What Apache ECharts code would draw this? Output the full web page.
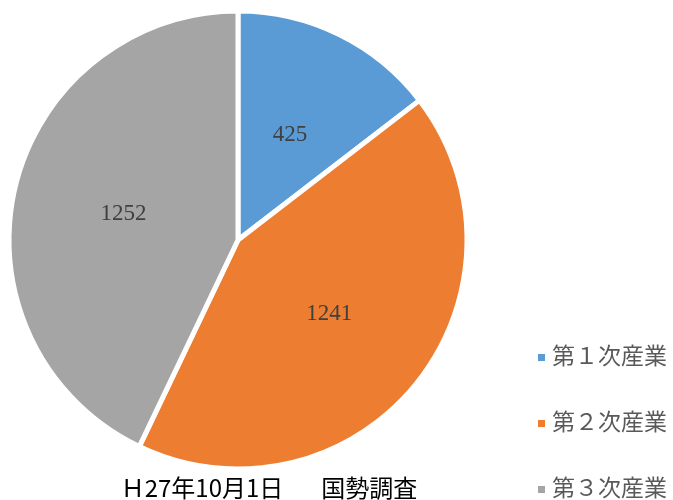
<!DOCTYPE html>
<html><head><meta charset="utf-8">
<script src="https://cdn.jsdelivr.net/npm/echarts@6/dist/echarts.min.js"></script>
<style>html,body{margin:0;padding:0;background:#fff}#c{width:673px;height:500px}</style>
</head><body><div id="c"></div>
<script>
const categories = ['第１次産業', '第２次産業', '第３次産業'];
const values = [425, 1241, 1252];
const colors = ['#5B9BD5', '#ED7D31', '#A5A5A5'];
const titleDate = 'Ｈ27年10月1日';
const titleSource = '国勢調査';

const legendTops = [346, 412, 478];
const chart = echarts.init(document.getElementById('c'), null, {renderer: 'canvas'});
chart.setOption({
  animation: false,
  title: {
    text: '{a|' + titleDate + '　}{b|' + titleSource + '}', left: 269, top: 476, textAlign: 'center', padding: 0,
    textStyle: {
      fontFamily: 'Noto Sans CJK JP', fontSize: 24, fontWeight: 'normal', color: '#000',
      rich: {
        a: {fontFamily: 'Noto Sans CJK JP', fontSize: 24, color: '#000'},
        b: {fontFamily: 'Noto Sans CJK JP', fontSize: 24, color: '#000', padding: [0, 0, 0, 14]}
      }
    }
  },
  legend: categories.map((c, i) => ({
    orient: 'vertical', left: 536, top: legendTops[i], itemWidth: 9, itemHeight: 9, padding: 0,
    icon: 'rect',
    textStyle: {fontFamily: 'Liberation Serif, Noto Sans CJK JP', fontSize: 23, lineHeight: 18, color: '#595959', padding: [0, 0, 0, 1]},
    data: [c]
  })),
  series: [{
    type: 'pie', center: [238, 240], radius: 229, startAngle: 90, clockwise: true,
    itemStyle: {borderColor: '#fff', borderWidth: 5},
    label: {position: 'inside', formatter: '{c}', fontFamily: 'Liberation Serif', fontSize: 23, color: '#404040'},
    labelLine: {show: false},
    data: categories.map((n, i) => ({name: n, value: values[i], itemStyle: {color: colors[i]}}))
  }]
});
</script></body></html>
